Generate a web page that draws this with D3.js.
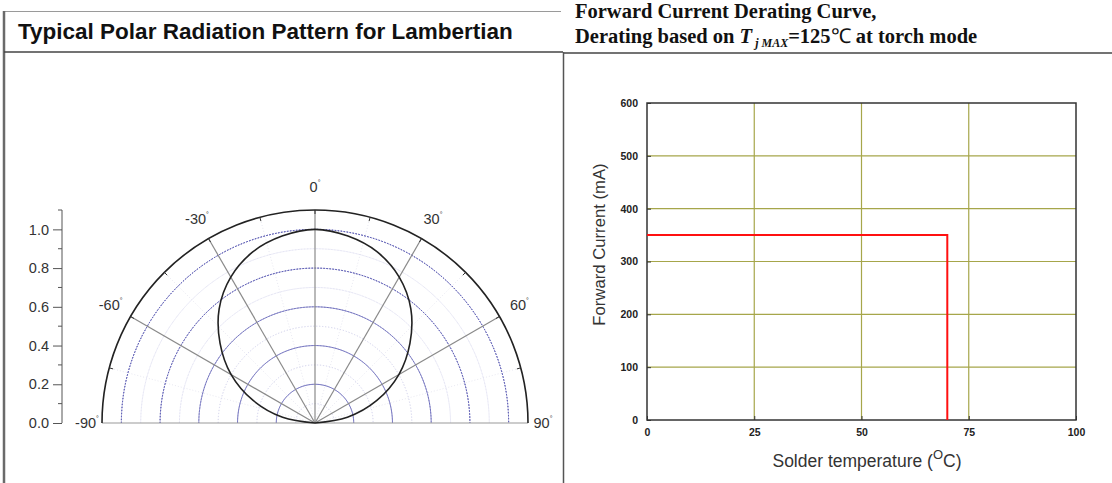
<!DOCTYPE html>
<html>
<head>
<meta charset="utf-8">
<script src="https://cdn.jsdelivr.net/npm/d3@7"></script>
<style>
	body { margin: 0; background: #fff; }
	svg { display: block; }
	.axisR text { font-family: Arial, "Liberation Sans", sans-serif; font-weight: bold; font-size: 10.5px; fill: #222; }
	.axisP text { font-family: Arial, "Liberation Sans", sans-serif; font-size: 14.5px; fill: #333; }
</style>
</head>
<body>
<svg id="drawZone" width="1112" height="483"></svg>
<script>
/************************************ Data *******************************/
// polar pattern (relative intensity per angle)
var polarAngles = [-90, -80, -70, -60, -50, -40, -30, -20, -10, 0, 10, 20, 30, 40, 50, 60, 70, 80, 90];
var polarIntensity = [0.00, 0.17, 0.34, 0.50, 0.64, 0.77, 0.87, 0.94, 0.98, 1.00, 0.98, 0.94, 0.87, 0.77, 0.64, 0.50, 0.34, 0.17, 0.00];
var ringMajor = [0.2, 0.4, 0.6, 0.8, 1.0];
var ringMinor = [0.1, 0.3, 0.5, 0.7, 0.9];
var spokeAngles = [-60, -30, 0, 30, 60];
var spokeMinor = [-75, -45, -15, 15, 45, 75];
var angleLabels = [-90, -60, -30, 0, 30, 60, 90];
var arcTickAngles = [-75, -60, -45, -30, -15, 0, 15, 30, 45, 60, 75];
var radiusTicks = [0.0, 0.2, 0.4, 0.6, 0.8, 1.0];
var radiusMinor = [0.1, 0.3, 0.5, 0.7, 0.9, 1.1];

// derating curve
var deratingTemp = [0, 70, 70];
var deratingCurrent = [350, 350, 0];
var tempTicks = [0, 25, 50, 75, 100];
var currentTicks = [0, 100, 200, 300, 400, 500, 600];

/************************************ Frame *******************************/
var svg = d3.select("#drawZone");

var frame = svg.append("g");
frame.append("line").attr("x1", 4).attr("y1", 11.5).attr("x2", 561).attr("y2", 11.5)
	.attr("stroke", "#9a9a9a").attr("stroke-width", 1);
frame.append("line").attr("x1", 4).attr("y1", 11).attr("x2", 4).attr("y2", 483)
	.attr("stroke", "#6a6a6a").attr("stroke-width", 2.5);
frame.append("line").attr("x1", 4).attr("y1", 52).attr("x2", 563).attr("y2", 52)
	.attr("stroke", "#444").attr("stroke-width", 1.5);
frame.append("line").attr("x1", 563).attr("y1", 53).attr("x2", 1112).attr("y2", 53)
	.attr("stroke", "#444").attr("stroke-width", 1.5);
frame.append("line").attr("x1", 563.5).attr("y1", 52).attr("x2", 563.5).attr("y2", 483)
	.attr("stroke", "#555").attr("stroke-width", 1.5);

frame.append("text").attr("x", 18).attr("y", 39)
	.style("font-family", "Arial, 'Liberation Sans', sans-serif")
	.style("font-weight", "bold").style("font-size", "22.5px").attr("fill", "#111")
	.text("Typical Polar Radiation Pattern for Lambertian");

var t1 = frame.append("text").attr("x", 575).attr("y", 18)
	.style("font-family", "'Times New Roman', 'Liberation Serif', serif")
	.style("font-weight", "bold").style("font-size", "20.5px").attr("fill", "#111");
t1.text("Forward Current Derating Curve,");
var t2 = frame.append("text").attr("x", 575).attr("y", 43)
	.style("font-family", "'Times New Roman', 'Liberation Serif', serif")
	.style("font-weight", "bold").style("font-size", "20.5px").attr("fill", "#111");
t2.append("tspan").text("Derating based on ");
t2.append("tspan").style("font-style", "italic").text("T");
t2.append("tspan").style("font-style", "italic").style("font-size", "12px").attr("dy", 4).text(" j MAX");
t2.append("tspan").attr("dy", -4).text("=125");
t2.append("tspan").style("font-weight", "normal").text("\u2103");
t2.append("tspan").text(" at torch mode");

/************************************ Polar chart *******************************/
var cx = 315, cy = 423;
var r = d3.scaleLinear().domain([0, 1.1]).range([0, 213]);
var rad = function(a) { return a * Math.PI / 180; };
var polar = svg.append("g").attr("transform", "translate(" + cx + "," + cy + ")");

var halfArc = function(v) {
	return d3.arc()({ innerRadius: r(v), outerRadius: r(v), startAngle: -Math.PI / 2, endAngle: Math.PI / 2 });
};

polar.selectAll(".spokeMinor").data(spokeMinor).enter().append("line")
	.attr("x1", 0).attr("y1", 0)
	.attr("x2", function(d) { return r(1.1) * Math.sin(rad(d)); })
	.attr("y2", function(d) { return -r(1.1) * Math.cos(rad(d)); })
	.attr("stroke", "#e2e2ee").attr("stroke-width", 0.8).attr("stroke-dasharray", "1,2");
polar.selectAll(".ringMinor").data(ringMinor).enter().append("path")
	.attr("d", halfArc).attr("fill", "none")
	.attr("stroke", "#d4d4ec").attr("stroke-width", 0.8).attr("stroke-dasharray", "1,2");
polar.selectAll(".ringMajor").data(ringMajor).enter().append("path")
	.attr("d", halfArc).attr("fill", "none")
	.attr("stroke", "#5a5ab4").attr("stroke-width", 1).attr("stroke-dasharray", "1.5,1.5");

// spokes
polar.selectAll(".spoke").data(spokeAngles).enter().append("line")
	.attr("x1", 0).attr("y1", 0)
	.attr("x2", function(d) { return r(1.1) * Math.sin(rad(d)); })
	.attr("y2", function(d) { return -r(1.1) * Math.cos(rad(d)); })
	.attr("stroke", "#8a8a8a").attr("stroke-width", 1.2);
polar.append("line").attr("x1", -r(1.1)).attr("y1", 0).attr("x2", r(1.1)).attr("y2", 0)
	.attr("stroke", "#999").attr("stroke-width", 1.2);

// outer arc + ticks
polar.append("path").attr("d", halfArc(1.1)).attr("fill", "none")
	.attr("stroke", "#222").attr("stroke-width", 1.6);
polar.selectAll(".atick").data(arcTickAngles).enter().append("line")
	.attr("x1", function(d) { return r(1.1) * Math.sin(rad(d)); })
	.attr("y1", function(d) { return -r(1.1) * Math.cos(rad(d)); })
	.attr("x2", function(d) { return (r(1.1) - 4) * Math.sin(rad(d)); })
	.attr("y2", function(d) { return -(r(1.1) - 4) * Math.cos(rad(d)); })
	.attr("stroke", "#333").attr("stroke-width", 1);

// lambertian curve
var curve = d3.lineRadial()
	.angle(function(d, i) { return rad(polarAngles[i]); })
	.radius(function(d) { return r(d); })
	.curve(d3.curveCatmullRom);
polar.append("path").datum(polarIntensity).attr("d", curve)
	.attr("fill", "none").attr("stroke", "#222").attr("stroke-width", 1.6);

// angle labels
var labDist = function(d) { return Math.abs(d) == 90 ? r(1.1) + 15 : r(1.1) + 23; };
var lab = polar.selectAll(".alab").data(angleLabels).enter().append("text")
	.attr("x", function(d) { return labDist(d) * Math.sin(rad(d)); })
	.attr("y", function(d) { return -labDist(d) * Math.cos(rad(d)) + 5; })
	.attr("text-anchor", "middle")
	.style("font-family", "Arial, 'Liberation Sans', sans-serif").style("font-size", "14.5px").attr("fill", "#333");
lab.append("tspan").text(function(d) { return d; });
lab.append("tspan").attr("dy", -7).style("font-size", "7px").text("\u00b0");

// radius axis on the left
var ry = d3.scaleLinear().domain([0, 1.1]).range([cy, cy - r(1.1)]);
var axP = svg.append("g").attr("class", "axisP").attr("transform", "translate(62,0)")
	.call(d3.axisLeft(ry).tickValues(radiusTicks).tickSize(9).tickPadding(4)
		.tickFormat(d3.format(".1f")));
axP.selectAll("line, path").attr("stroke", "#555");
axP.select(".domain").attr("d", "M0," + ry(1.1) + "V" + ry(0));
svg.append("g").attr("transform", "translate(62,0)")
	.selectAll("line").data(radiusMinor).enter().append("line")
	.attr("x1", -4).attr("x2", 0)
	.attr("y1", function(d) { return ry(d); }).attr("y2", function(d) { return ry(d); })
	.attr("stroke", "#555");

/************************************ Derating chart *******************************/
var x = d3.scaleLinear().domain([0, 100]).range([647, 1076]);
var y = d3.scaleLinear().domain([0, 600]).range([420, 103]);
var der = svg.append("g");

der.selectAll(".gx").data(tempTicks.slice(1, 4)).enter().append("line")
	.attr("x1", x).attr("x2", x).attr("y1", y(600)).attr("y2", y(0))
	.attr("stroke", "#a6a64a").attr("stroke-width", 1.2);
der.selectAll(".gy").data(currentTicks.slice(1, 6)).enter().append("line")
	.attr("y1", y).attr("y2", y).attr("x1", x(0)).attr("x2", x(100))
	.attr("stroke", "#a6a64a").attr("stroke-width", 1.2);

var axX = der.append("g").attr("class", "axisR").attr("transform", "translate(0," + y(0) + ")")
	.call(d3.axisBottom(x).tickValues(tempTicks).tickSize(-4).tickPadding(9));
var axY = der.append("g").attr("class", "axisR").attr("transform", "translate(" + x(0) + ",0)")
	.call(d3.axisLeft(y).tickValues(currentTicks).tickSize(-4).tickPadding(9));
axX.selectAll("line").attr("stroke", "#333");
axY.selectAll("line").attr("stroke", "#333");
axX.select(".domain").remove();
axY.select(".domain").remove();

der.append("rect").attr("x", x(0)).attr("y", y(600))
	.attr("width", x(100) - x(0)).attr("height", y(0) - y(600))
	.attr("fill", "none").attr("stroke", "#333").attr("stroke-width", 1.5);

der.append("path").datum(d3.zip(deratingTemp, deratingCurrent))
	.attr("d", d3.line().x(function(d) { return x(d[0]); }).y(function(d) { return y(d[1]); }))
	.attr("fill", "none").attr("stroke", "#ff1010").attr("stroke-width", 2);

der.append("text").attr("transform", "translate(605," + ((y(0) + y(600)) / 2 - 17) + ") rotate(-90)")
	.attr("text-anchor", "middle")
	.style("font-family", "Arial, 'Liberation Sans', sans-serif").style("font-size", "16.7px").attr("fill", "#333")
	.text("Forward Current (mA)");

var xt = der.append("text").attr("x", 867).attr("y", 467).attr("text-anchor", "middle")
	.style("font-family", "Arial, 'Liberation Sans', sans-serif").style("font-size", "17.5px").attr("fill", "#333");
xt.append("tspan").text("Solder temperature (");
xt.append("tspan").attr("dy", -8).style("font-size", "13px").text("O");
xt.append("tspan").attr("dy", 8).text("C)");
</script>
</body>
</html>
